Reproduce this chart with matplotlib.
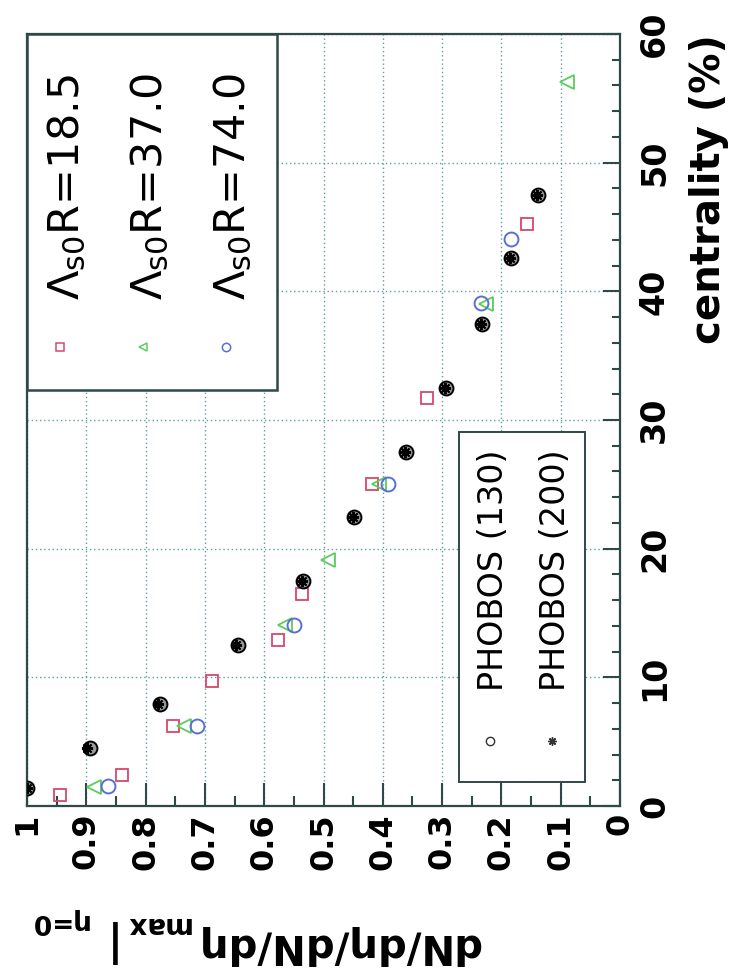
# dN/deta ratio vs centrality, drawn rotated like the scanned figure
import matplotlib
matplotlib.use("Agg")
import matplotlib.pyplot as plt
from matplotlib.patches import Rectangle

plt.rcParams['font.family'] = ['DejaVu Sans']

# PHOBOS data: centrality (%) and normalised dN/deta
phobos130_c = [1.4, 4.5, 7.9, 12.5, 17.5, 22.5, 27.5, 32.5, 37.5, 42.6, 47.5]
phobos130_v = [1.0, 0.894, 0.775, 0.644, 0.534, 0.449, 0.361, 0.294, 0.233, 0.184, 0.139]
phobos200_c = [1.4, 4.5, 7.9, 12.5, 17.5, 22.5, 27.5, 32.5, 37.5, 42.6, 47.5]
phobos200_v = [1.0, 0.898, 0.779, 0.647, 0.536, 0.450, 0.362, 0.295, 0.235, 0.186, 0.140]

# model curves
r185_c = [0.86, 2.4, 6.2, 9.7, 12.9, 16.5, 25.0, 31.7, 45.2]
r185_v = [0.944, 0.839, 0.754, 0.688, 0.576, 0.536, 0.419, 0.326, 0.156]
r370_c = [1.5, 6.2, 14.1, 19.1, 25.0, 39.0, 56.3]
r370_v = [0.887, 0.735, 0.565, 0.492, 0.406, 0.226, 0.090]
r740_c = [1.55, 6.2, 14.1, 25.0, 39.1, 44.1]
r740_v = [0.863, 0.714, 0.549, 0.392, 0.235, 0.184]

model_labels = [r'Λ$_{\rm s0}$R=18.5', r'Λ$_{\rm s0}$R=37.0', r'Λ$_{\rm s0}$R=74.0']
data_labels = ['PHOBOS (130)', 'PHOBOS (200)']

v_ticks = [1.0, 0.9, 0.8, 0.7, 0.6, 0.5, 0.4, 0.3, 0.2, 0.1, 0.0]
v_ticklabels = ['1', '0.9', '0.8', '0.7', '0.6', '0.5', '0.4', '0.3', '0.2', '0.1', '0']
c_ticks = [0, 10, 20, 30, 40, 50, 60]

red = '#d8476a'
green = '#5ccc5c'
blue = '#5a6fd6'
frame = '#2f4848'
gridc = '#5f9ea0'

W, H = 734, 968
fig = plt.figure(figsize=(W/100, H/100), dpi=100)
ax = fig.add_axes([27/W, (H-806)/H, 593/W, 772/H])

ax.set_xlim(1.0, 0.0)
ax.set_ylim(0, 60)

ax.plot(phobos130_v, phobos130_c, 'o', ms=10, mfc='#9a9a9a', mec='black', mew=1.4, zorder=4)
ax.plot(phobos200_v, phobos200_c, marker=(8, 2, 0), ls='none', ms=8, mec='black', mew=1.4, zorder=5)
ax.plot(r185_v, r185_c, 's', ms=9, mfc='none', mec=red, mew=1.3, zorder=3)
ax.plot(r370_v, r370_c, '<', ms=10, mfc='none', mec=green, mew=1.3, zorder=3)
ax.plot(r740_v, r740_c, 'o', ms=10, mfc='none', mec=blue, mew=1.4, zorder=3)

ax.set_xticks(v_ticks, v_ticklabels)
ax.set_xticks([0.95, 0.85, 0.75, 0.65, 0.55, 0.45, 0.35, 0.25, 0.15, 0.05], minor=True)
ax.set_yticks(c_ticks)
ax.set_yticks(range(0, 61, 2), minor=True)
ax.yaxis.tick_right()

for lab in ax.get_xticklabels():
    lab.set_rotation(90)
    lab.set_fontweight('bold')
    lab.set_fontsize(23)
for lab in ax.get_yticklabels():
    lab.set_rotation(90)
    lab.set_fontweight('bold')
    lab.set_fontsize(24)
    lab.set_va('center')

ax.tick_params(axis='x', which='both', direction='in', top=False, bottom=True,
               color=frame, width=1.5, pad=5)
ax.tick_params(axis='x', which='major', length=16.5)
ax.tick_params(axis='x', which='minor', length=7)
ax.tick_params(axis='y', which='both', direction='in', left=False, right=True,
               color=frame, width=1.5, pad=13)
ax.tick_params(axis='y', which='major', length=12)
ax.tick_params(axis='y', which='minor', length=6)

ax.grid(True, which='major', ls=(0, (1, 2)), color=gridc, lw=1.0)
for s in ax.spines.values():
    s.set_color(frame)
    s.set_linewidth(1.6)

ax.text(1.150, 1.0, 'centrality (%)', transform=ax.transAxes, rotation=90,
        ha='center', va='top', fontsize=29, fontweight='bold')

# y title is upside down; built from pieces so the subscripts keep ROOT's size
renderer = fig.canvas.get_renderer()
pieces = [('dN/dη/dN/dη', 29, 945, 0), ('max', 20, 925, 6),
          ('|', 30, 941, 12), ('η=0', 19, 921, 10)]
right = 480
for txt, size, yc, gap in pieces:
    right -= gap
    t = fig.text(right/W, 1 - yc/H, txt, rotation=180, ha='right', va='center',
                 fontsize=size, fontweight='bold')
    right = t.get_window_extent(renderer).x0

# legend boxes drawn by hand because the text runs sideways
ax.add_patch(Rectangle((0.0, 0.539), 0.4216, 0.461, transform=ax.transAxes,
                       fc='white', ec=frame, lw=1.8, zorder=6))
ax.add_patch(Rectangle((0.728, 0.031), 0.213, 0.453, transform=ax.transAxes,
                       fc='white', ec=frame, lw=1.4, zorder=6))

leg1_x = [0.068, 0.208, 0.348]
leg1_style = [('s', red), ('<', green), ('o', blue)]
for xx, lab, (m, col) in zip(leg1_x, model_labels, leg1_style):
    ax.text(xx, 0.655, lab, transform=ax.transAxes, rotation=90, ha='center',
            va='bottom', fontsize=31, zorder=7)
    ax.plot([xx - 0.012], [0.595], m, transform=ax.transAxes, ms=6, mfc='none', mec=col,
            mew=1.1, zorder=7, clip_on=False)

leg2_x = [0.787, 0.891]
leg2_style = ['o', (8, 2, 0)]
for xx, lab, m in zip(leg2_x, data_labels, leg2_style):
    ax.text(xx, 0.149, lab, transform=ax.transAxes, rotation=90, ha='center',
            va='bottom', fontsize=24, zorder=7)
    ax.plot([xx - 0.006], [0.084], marker=m, ls='none', transform=ax.transAxes, ms=6,
            mfc='none', mec='#333333', mew=1.0, zorder=7, clip_on=False)

fig.savefig('out.png', dpi=100)
